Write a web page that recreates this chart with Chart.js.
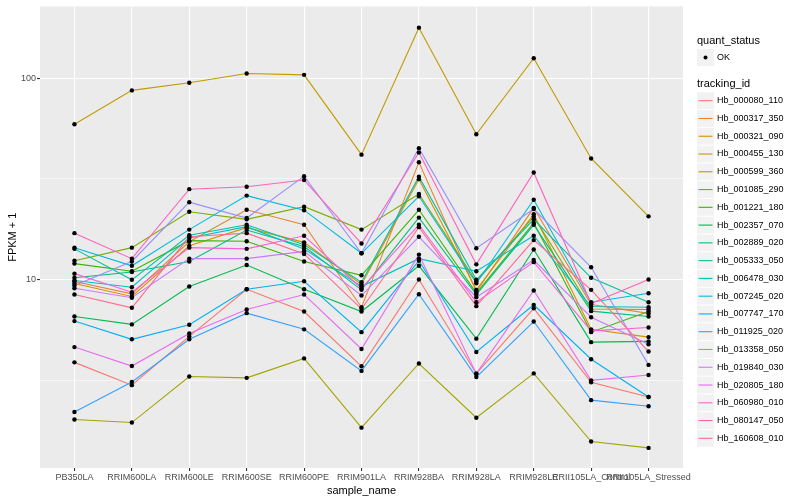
<!DOCTYPE html>
<html>
<head>
<meta charset="utf-8">
<script src="https://cdn.jsdelivr.net/npm/chart.js@4/dist/chart.umd.min.js"></script>
<style>
  body { margin: 0; background: #fff; }
  #wrap { width: 800px; height: 500px; position: relative; }
</style>
</head>
<body>
<div id="wrap"><canvas id="fpkmChart"></canvas></div>
<script>
// --- DATA (FPKM + 1) ---
const samples = ['PB350LA', 'RRIM600LA', 'RRIM600LE', 'RRIM600SE', 'RRIM600PE', 'RRIM901LA',
                 'RRIM928BA', 'RRIM928LA', 'RRIM928LE', 'RRII105LA_Control', 'RRII105LA_Stressed'];

const trackingIds = ['Hb_000080_110', 'Hb_000317_350', 'Hb_000321_090', 'Hb_000455_130', 'Hb_000599_360',
                     'Hb_001085_290', 'Hb_001221_180', 'Hb_002357_070', 'Hb_002889_020', 'Hb_005333_050',
                     'Hb_006478_030', 'Hb_007245_020', 'Hb_007747_170', 'Hb_011925_020', 'Hb_013358_050',
                     'Hb_019840_030', 'Hb_020805_180', 'Hb_060980_010', 'Hb_080147_050', 'Hb_160608_010'];

// ggplot default hue palette for 20 groups
const colours = ['#F8766D', '#EA8331', '#D89000', '#C09B00', '#A3A500', '#7CAE00', '#39B600', '#00BB4E',
                 '#00BF7D', '#00C1A3', '#00BFC4', '#00BAE0', '#00B0F6', '#35A2FF', '#9590FF', '#C77CFF',
                 '#E76BF3', '#FA62DB', '#FF62BC', '#FF6C91'];

const hb_000080_110 = [3.88, 2.99, 5.22, 8.95, 6.94, 3.71, 10.0, 3.41, 7.20, 3.09, 2.61];
const hb_000317_350 = [9.77, 8.49, 15.4, 22.2, 18.7, 7.29, 38.2, 8.72, 22.7, 7.52, 6.79];
const hb_000321_090 = [9.55, 8.24, 14.7, 18.1, 15.3, 9.45, 31.5, 8.89, 21.1, 5.66, 5.18];
const hb_000455_130 = [59.0, 86.9, 94.8, 105.5, 103.8, 41.7, 178, 52.6, 125.6, 39.9, 20.6];
const hb_000599_360 = [2.02, 1.95, 3.30, 3.25, 4.06, 1.84, 3.83, 2.06, 3.42, 1.57, 1.46];
const hb_001085_290 = [12.4, 14.4, 21.7, 19.9, 23.0, 17.7, 26.6, 9.77, 20.5, 7.14, 7.10];
const hb_001221_180 = [12.0, 11.0, 15.6, 15.5, 12.3, 10.5, 22.2, 8.57, 19.1, 5.48, 6.94];
const hb_002357_070 = [6.56, 5.99, 9.23, 11.8, 8.95, 6.94, 11.7, 5.09, 14.1, 4.89, 4.93];
const hb_002889_020 = [10.2, 10.9, 12.3, 17.6, 14.6, 8.89, 20.3, 8.43, 18.7, 6.97, 6.56];
const hb_005333_050 = [14.2, 9.97, 16.6, 18.7, 14.9, 9.70, 32.4, 9.97, 19.9, 10.2, 7.72];
const hb_006478_030 = [9.89, 9.16, 16.1, 18.3, 14.2, 9.23, 12.7, 11.0, 16.5, 7.35, 7.29];
const hb_007245_020 = [14.4, 11.7, 17.7, 26.1, 22.1, 13.5, 25.9, 9.59, 24.9, 7.72, 8.55];
const hb_007747_170 = [6.22, 5.05, 5.97, 8.95, 9.81, 5.48, 12.4, 4.37, 7.49, 4.02, 2.61];
const hb_011925_020 = [2.20, 3.10, 5.05, 6.81, 5.66, 3.52, 8.46, 3.28, 6.19, 2.52, 2.35];
const hb_013358_050 = [9.34, 12.3, 24.2, 20.2, 32.6, 13.5, 44.9, 14.3, 22.4, 11.5, 3.77];
const hb_019840_030 = [9.06, 8.12, 12.7, 12.7, 13.8, 8.33, 16.3, 8.17, 12.5, 6.50, 4.77];
const hb_020805_180 = [4.62, 3.72, 5.40, 7.10, 8.43, 4.52, 13.3, 3.41, 8.82, 3.16, 3.36];
const hb_060980_010 = [10.7, 8.65, 14.4, 14.2, 16.5, 9.03, 18.7, 7.72, 12.2, 5.56, 5.78];
const hb_080147_050 = [17.0, 12.7, 28.1, 28.9, 31.2, 15.1, 42.7, 11.9, 34.0, 7.61, 10.0];
const hb_160608_010 = [8.43, 7.24, 16.3, 17.0, 13.4, 7.14, 18.2, 7.38, 15.7, 8.89, 4.39];

const seriesValues = [hb_000080_110, hb_000317_350, hb_000321_090, hb_000455_130, hb_000599_360,
                      hb_001085_290, hb_001221_180, hb_002357_070, hb_002889_020, hb_005333_050,
                      hb_006478_030, hb_007245_020, hb_007747_170, hb_011925_020, hb_013358_050,
                      hb_019840_030, hb_020805_180, hb_060980_010, hb_080147_050, hb_160608_010];

const yMajor = [10, 100];
const yMinor = [3.162, 31.62];

const FONT = '"Liberation Sans", Arial, sans-serif';

// --- PLUGINS (ggplot look) ---
const panelBackground = {
    id: 'panelBackground',
    beforeDraw(chart) {
        const { ctx, chartArea: a } = chart;
        ctx.save();
        ctx.fillStyle = '#fff';
        ctx.fillRect(0, 0, chart.width, chart.height);
        ctx.fillStyle = '#EBEBEB';
        ctx.fillRect(a.left, a.top, a.right - a.left, a.bottom - a.top);
        ctx.restore();
    }
};

const ggLegend = {
    id: 'ggLegend',
    afterDraw(chart) {
        const ctx = chart.ctx;
        const x0 = 697;
        ctx.save();
        ctx.textBaseline = 'middle';
        ctx.textAlign = 'left';

        ctx.fillStyle = '#000';
        ctx.font = '11px ' + FONT;
        ctx.fillText('quant_status', x0, 41);
        ctx.fillStyle = '#F2F2F2';
        ctx.fillRect(x0, 49, 17, 17);
        ctx.fillStyle = '#000';
        ctx.beginPath();
        ctx.arc(x0 + 8.5, 57.5, 2, 0, Math.PI * 2);
        ctx.fill();
        ctx.font = '9px ' + FONT;
        ctx.fillText('OK', 717, 57.5);

        ctx.font = '11px ' + FONT;
        ctx.fillText('tracking_id', x0, 84);

        trackingIds.forEach((id, i) => {
            const cy = 100.7 + i * 17.77;
            ctx.fillStyle = '#F2F2F2';
            ctx.fillRect(x0, cy - 8.4, 17, 16.8);
            ctx.strokeStyle = colours[i];
            ctx.lineWidth = 1.1;
            ctx.beginPath();
            ctx.moveTo(x0 + 1.5, cy);
            ctx.lineTo(x0 + 15.5, cy);
            ctx.stroke();
            ctx.fillStyle = '#000';
            ctx.font = '9px ' + FONT;
            ctx.fillText(id, 717, cy);
        });
        ctx.restore();
    }
};

// --- DATASETS ---
const lineSets = seriesValues.map((vals, i) => ({
    label: trackingIds[i],
    data: vals.map((v, j) => ({ x: j, y: v })),
    borderColor: colours[i],
    borderWidth: 1.1,
    pointRadius: 0,
    fill: false,
    tension: 0,
    order: seriesValues.length - i   // later ids on top, like ggplot
}));

const pointSet = {
    label: 'OK',
    data: seriesValues.flatMap(vals => vals.map((v, j) => ({ x: j, y: v }))),
    showLine: false,
    pointRadius: 2.2,
    pointBorderWidth: 0,
    pointBackgroundColor: '#000',
    order: 0
};

const isMajor = (v) => yMajor.some(m => Math.abs(m - v) < 1e-6);

new Chart(document.getElementById('fpkmChart'), {
    type: 'line',
    data: { datasets: [pointSet, ...lineSets] },
    options: {
        responsive: true,
        maintainAspectRatio: false,
        animation: false,
        layout: { padding: { left: 0, right: 117, top: 5, bottom: 0 } },
        plugins: { legend: { display: false }, tooltip: { enabled: false } },
        scales: {
            x: {
                type: 'linear',
                min: -0.6,
                max: samples.length - 0.4,
                afterBuildTicks: (scale) => { scale.ticks = samples.map((s, i) => ({ value: i })); },
                afterFit: (scale) => { scale.height = 32; },
                ticks: {
                    callback: (v) => samples[v],
                    autoSkip: false,
                    maxRotation: 0,
                    minRotation: 0,
                    padding: 1,
                    color: '#4D4D4D',
                    font: { family: FONT, size: 9 }
                },
                grid: { color: '#fff', lineWidth: 1.1, tickColor: '#333', tickLength: 3 },
                border: { display: false },
                title: {
                    display: true, text: 'sample_name', color: '#000',
                    font: { family: FONT, size: 11 }, padding: { top: 0, bottom: 2 }
                }
            },
            y: {
                type: 'logarithmic',
                min: 1.16,
                max: 227,
                afterBuildTicks: (scale) => {
                    scale.ticks = [...yMinor, ...yMajor].sort((a, b) => a - b).map(v => ({ value: v }));
                },
                afterFit: (scale) => { scale.width = 40; },
                ticks: {
                    callback: (v) => isMajor(v) ? String(v) : '',
                    padding: 1,
                    color: '#4D4D4D',
                    font: { family: FONT, size: 9 }
                },
                grid: {
                    color: '#fff',
                    lineWidth: (c) => (c.tick && isMajor(c.tick.value)) ? 1.1 : 0.55,
                    tickColor: (c) => (c.tick && isMajor(c.tick.value)) ? '#333' : 'rgba(0,0,0,0)',
                    tickLength: 3
                },
                border: { display: false },
                title: {
                    display: true, text: 'FPKM + 1', color: '#000',
                    font: { family: FONT, size: 11 }, padding: { top: 6, bottom: 0 }
                }
            }
        }
    },
    plugins: [panelBackground, ggLegend]
});
</script>
</body>
</html>
